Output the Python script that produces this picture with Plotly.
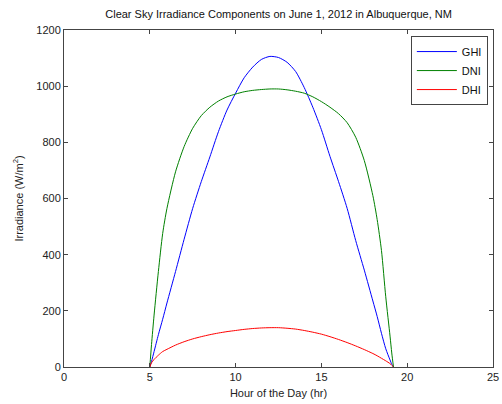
import plotly.graph_objects as go

hours = [5.0, 5.1, 5.25, 5.5, 5.75, 6.0, 6.5, 7.0, 7.5, 8.0, 8.5, 9.0, 9.5, 10.0, 10.5,
         11.0, 11.5, 12.0, 12.5, 13.0, 13.5, 14.0, 14.5, 15.0, 15.5, 16.0, 16.5, 17.0,
         17.5, 18.0, 18.25, 18.5, 18.75, 19.0, 19.1, 19.2]

ghi = [0, 20, 55, 115, 170, 228, 340, 455, 565, 660, 748, 838, 915, 975, 1030,
       1068, 1095, 1106, 1102, 1085, 1052, 995, 925, 845, 750, 660, 565, 450,
       345, 235, 180, 120, 65, 25, 10, 0]

dni = [0, 80, 185, 340, 475, 565, 695, 785, 850, 895, 925, 947, 962, 972, 980,
       985, 988, 990, 990, 987, 982, 975, 962, 945, 925, 902, 870, 818,
       735, 610, 525, 415, 250, 110, 50, 0]

dhi = [0, 15, 27, 42, 55, 63, 78, 90, 100, 108, 115, 121, 126, 130, 134,
       137, 139, 140, 140, 138, 135, 130, 124, 117, 108, 98, 87, 75,
       62, 48, 40, 31, 22, 12, 6, 0]

x_ticks = [0, 5, 10, 15, 20, 25]
y_ticks = [0, 200, 400, 600, 800, 1000, 1200]

fig = go.Figure()
fig.add_trace(go.Scatter(x=hours, y=ghi, mode="lines", name="GHI",
                         line=dict(color="#0000ff", width=1, shape="spline", smoothing=0.7)))
fig.add_trace(go.Scatter(x=hours, y=dni, mode="lines", name="DNI",
                         line=dict(color="#008000", width=1, shape="spline", smoothing=0.7)))
fig.add_trace(go.Scatter(x=hours, y=dhi, mode="lines", name="DHI",
                         line=dict(color="#ff0000", width=1, shape="spline", smoothing=0.7)))

axis_common = dict(showgrid=False, zeroline=False, showline=True, linecolor="#444444",
                   linewidth=1, mirror="ticks", ticks="inside", ticklen=4,
                   tickcolor="#444444", automargin=False,
                   tickfont=dict(size=11, color="#222222"))

fig.update_layout(
    width=502, height=404,
    margin=dict(l=64, r=9, t=30, b=37),
    paper_bgcolor="white", plot_bgcolor="white",
    font=dict(family="Liberation Sans, Arial, sans-serif", size=11, color="#222222"),
    title=dict(text="Clear Sky Irradiance Components on June 1, 2012 in Albuquerque, NM",
               x=0.555, xanchor="center", y=0.965, yanchor="middle",
               font=dict(size=11, color="#111111")),
    xaxis=dict(range=[0, 25], tickvals=x_ticks, ticktext=[str(v) for v in x_ticks],
               title=dict(text="Hour of the Day (hr)", standoff=7, font=dict(size=11)),
               **axis_common),
    yaxis=dict(range=[0, 1200], tickvals=y_ticks, ticktext=[str(v) for v in y_ticks],
               title=dict(text="Irradiance (W/m<sup>2</sup>)", standoff=10, font=dict(size=11)),
               **axis_common),
    legend=dict(x=0.988, xanchor="right", y=0.982, yanchor="top",
                bgcolor="white", bordercolor="#444444", borderwidth=1,
                font=dict(size=11, color="#111111"), tracegroupgap=0,
                itemwidth=40),
    showlegend=True,
)

fig.write_html("out.html")
